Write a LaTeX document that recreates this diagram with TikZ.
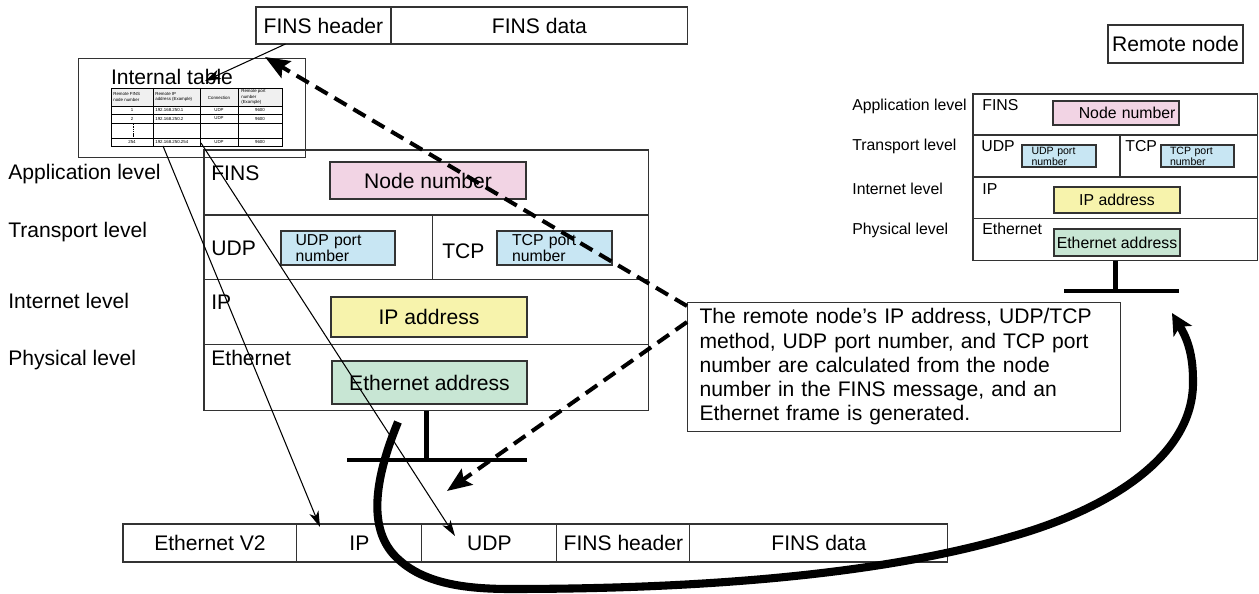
\documentclass[tikz,border=0pt]{standalone}
\usepackage{fontspec}
\setmainfont{Liberation Sans}
\usepackage{xcolor}
\usepackage{tikz}
\usetikzlibrary{arrows.meta,positioning}

\definecolor{nodepink}{RGB}{242,212,228}
\definecolor{portblue}{RGB}{200,230,243}
\definecolor{ipyellow}{RGB}{247,243,172}
\definecolor{ethgreen}{RGB}{200,230,212}

\begin{document}
\begin{tikzpicture}[x=0.02cm, y=-0.02cm,
    layer/.style={draw=black!80, line width=0.6pt, minimum width=8.9cm,
      minimum height=1.3cm, inner sep=0pt, outer sep=0pt, anchor=north west},
    rlayer/.style={layer, minimum width=5.7cm, minimum height=0.84cm},
    field/.style={draw=black!80, line width=0.6pt, inner sep=0pt, outer sep=0pt,
      minimum height=0.76cm, anchor=north west, font=\fontsize{12}{14}\selectfont},
    addr/.style={draw=black!80, line width=0.6pt, inner sep=0pt,
      font=\fontsize{12}{14}\selectfont},
    raddr/.style={addr, font=\fontsize{9}{10}\selectfont},
    port/.style={addr, align=left, font=\fontsize{9}{9.5}\selectfont},
    rport/.style={addr, align=left, font=\fontsize{6}{6.2}\selectfont},
    level/.style={anchor=base west, inner sep=0pt, font=\fontsize{12}{14}\selectfont},
    rlevel/.style={level, font=\fontsize{9}{10}\selectfont},
    tbltext/.style={inner sep=0pt, font=\fontsize{2.5}{3.2}\selectfont, align=center},
    tblline/.style={draw=black, line width=0.3pt},
    link/.style={-{Stealth[length=9pt, width=5.5pt, inset=2.5pt]}, line width=0.6pt},
    lookup/.style={-{Stealth[length=14pt, width=11pt, inset=2.5pt]}, line width=2.3pt,
      dash pattern=on 8pt off 4.5pt},
    tapline/.style={line width=2.8pt},
    cable/.style={-{Stealth[length=12pt, width=12pt, inset=3pt]}, line width=4.6pt},
  ]
  \useasboundingbox (0,0) rectangle (1259,594);

  \node[field, minimum width=2.7cm, minimum height=0.74cm] (tHead) at (256,7) {FINS header};
  \node[field, minimum width=5.94cm, minimum height=0.74cm, right=0pt of tHead] (tData) {FINS data};

  \node[draw=black!80, line width=0.6pt, minimum width=4.54cm, minimum height=1.98cm,
    anchor=north west, inner sep=0pt] (itab) at (78,58) {};
  \node[level, anchor=base] (ititle) at (172,85) {Internal table};
  \fill[black!6] (111,88) rectangle (282,106);
  \draw[tblline] (111,88) rectangle (282,146);
  \foreach \cx in {153,200,238}
    \draw[tblline] (\cx,88) -- (\cx,146);
  \foreach \ry in {106,114,123,138}
    \draw[tblline] (111,\ry) -- (282,\ry);
  \draw[tblline, dash pattern=on 0.8pt off 0.5pt] (133,124) -- (133,137);
  \node[tbltext, anchor=west, align=left] (h1) at (113,97) {Remote FINS\\node number};
  \node[tbltext, anchor=west, align=left] (h2) at (155,97) {Remote IP\\address (Example)};
  \node[tbltext] (h3) at (219,98) {Connection};
  \node[tbltext, anchor=west, align=left] (h4) at (241,97) {Remote port\\number\\(Example)};
  \foreach \ry/\nno/\nip [count=\i] in {110/1/192.168.250.1, 118.5/2/192.168.250.2,
      142/254/192.168.250.254} {
    \node[tbltext] (no\i) at (132,\ry) {\nno};
    \node[tbltext, anchor=west] (ip\i) at (155,\ry) {\nip};
    \node[tbltext] (con\i) at (219,\ry) {UDP};
    \node[tbltext] (pt\i) at (260,\ry) {9600};
  }

  \node[layer] (app) at (204,150) {};
  \node[layer, below=0pt of app] (trans) {};
  \node[layer, below=0pt of trans] (inet) {};
  \node[layer, below=0pt of inet, minimum height=1.32cm] (phys) {};
  \draw[draw=black!80, line width=0.6pt] ([xshift=4.58cm]trans.north west) -- ([xshift=4.58cm]trans.south west);

  \node[level] (lApp) at (8,180) {Application level};
  \node[level] (lTrans) at (8,237.5) {Transport level};
  \node[level] (lInet) at (8,308.5) {Internet level};
  \node[level] (lPhys) at (8,365.5) {Physical level};

  \node[level] (nFins) at (211,180.5) {FINS};
  \node[level] (nUdp) at (211,255.5) {UDP};
  \node[level] (nTcp) at (442,258.5) {TCP};
  \node[level] (nIp) at (211,309.5) {IP};
  \node[level] (nEth) at (211,365.5) {Ethernet};

  \node[addr, fill=nodepink, minimum width=3.92cm, minimum height=0.74cm] (nodeno) at (428,180.5) {Node number};
  \node[port, fill=portblue, minimum width=2.28cm, minimum height=0.68cm, text width=1.7cm] (udpport) at (338,248) {UDP port\\number};
  \node[port, fill=portblue, minimum width=2.3cm, minimum height=0.68cm, text width=1.7cm] (tcpport) at (554.5,248) {TCP port\\number};
  \node[addr, fill=ipyellow, minimum width=3.92cm, minimum height=0.8cm] (ipaddr) at (429,317) {IP address};
  \node[addr, fill=ethgreen, minimum width=3.9cm, minimum height=0.86cm] (ethaddr) at (429.5,382.5) {Ethernet address};

  \coordinate (busL) at (347,460);
  \coordinate (busR) at (527,460);
  \draw[tapline] (phys.south) -- (phys.south |- busL);
  \draw[tapline] (busL) -- (busR);

  \node[addr, minimum width=2.7cm, minimum height=0.76cm] (remote) at (1175.5,44) {Remote node};

  \node[rlayer, minimum height=0.82cm] (rapp) at (973,94) {};
  \node[rlayer, below=0pt of rapp] (rtrans) {};
  \node[rlayer, below=0pt of rtrans] (rinet) {};
  \node[rlayer, below=0pt of rinet] (rphys) {};
  \draw[draw=black!80, line width=0.6pt] ([xshift=2.94cm]rtrans.north west) -- ([xshift=2.94cm]rtrans.south west);

  \node[rlevel] (rlApp) at (852,111) {Application level};
  \node[rlevel] (rlTrans) at (852,151) {Transport level};
  \node[rlevel] (rlInet) at (852,195) {Internet level};
  \node[rlevel] (rlPhys) at (852,235) {Physical level};

  \node[rlevel] (rnFins) at (982,111) {FINS};
  \node[rlevel] (rnUdp) at (981,151.4) {UDP};
  \node[rlevel] (rnTcp) at (1125,151.4) {TCP};
  \node[rlevel] (rnIp) at (982,195) {IP};
  \node[rlevel] (rnEth) at (982,235) {Ethernet};

  \node[raddr, fill=nodepink, minimum width=2.52cm, minimum height=0.48cm, text width=2.38cm, align=right] (rnodeno) at (1116,113) {Node number};
  \node[rport, fill=portblue, minimum width=1.48cm, minimum height=0.44cm, text width=1.1cm] (rudpport) at (1059,156) {UDP port\\number};
  \node[rport, fill=portblue, minimum width=1.46cm, minimum height=0.44cm, text width=1.1cm] (rtcpport) at (1197.5,156) {TCP port\\number};
  \node[raddr, fill=ipyellow, minimum width=2.52cm, minimum height=0.52cm] (ripaddr) at (1117,200) {IP address};
  \node[raddr, fill=ethgreen, minimum width=2.52cm, minimum height=0.54cm] (rethaddr) at (1117,242.5) {Ethernet address};

  \coordinate (rbusL) at (1064,291);
  \coordinate (rbusR) at (1179,291);
  \draw[tapline] (rphys.south) -- (rphys.south |- rbusL);
  \draw[tapline] (rbusL) -- (rbusR);

  \node[draw=black!80, line width=0.6pt, anchor=north west, minimum width=8.66cm,
    minimum height=2.58cm, text width=8.18cm, inner xsep=0.24cm, inner ysep=0pt,
    align=left, font=\fontsize{12}{13.8}\selectfont] (note) at (687,302)
    {The remote node{\char"0027}s IP address, UDP/TCP\\method, UDP port number, and TCP port\\number are calculated from the node\\number in the FINS message, and an\\Ethernet frame is generated.};

  \node[field, minimum width=3.48cm] (fEth) at (123,524) {Ethernet V2};
  \node[field, minimum width=2.5cm, right=0pt of fEth] (fIp) {IP};
  \node[field, minimum width=2.7cm, right=0pt of fIp] (fUdp) {UDP};
  \node[field, minimum width=2.66cm, right=0pt of fUdp] (fHead) {FINS header};
  \node[field, minimum width=5.16cm, right=0pt of fHead] (fData) {FINS data};

  \coordinate (titleTip) at (205,81);
  \coordinate (ipSrc) at (163,146);
  \coordinate (udpSrc) at (201,143);
  \coordinate (ipTip) at (320,527);
  \coordinate (udpTip) at (455,536);
  \coordinate (frameTip) at (447,491);
  \coordinate (tableTip) at (265,57);
  \coordinate (cabS) at (398,422);
  \coordinate (cabE) at (1172,313);

  \draw[link] ([xshift=-0.76cm]tHead.south) -- (titleTip);
  \draw[link] (ipSrc) -- (ipTip);
  \draw[link] (udpSrc) -- (udpTip);
  \draw[lookup] ([yshift=-0.08cm]note.north west) -- (tableTip);
  \draw[lookup] ([yshift=-0.4cm]note.north west) -- (frameTip);
  \draw[cable] (cabS) .. controls (372,485) and (370,530) .. (395,556)
    .. controls (420,582) and (460,589) .. (510,589)
    .. controls (700,589) and (880,575) .. (1010,537)
    .. controls (1100,512) and (1195,460) .. (1193,380)
    .. controls (1193,350) and (1185,335) .. (cabE);
\end{tikzpicture}
\end{document}
